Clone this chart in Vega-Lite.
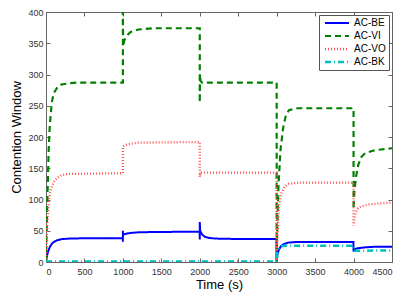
{
  "$schema": "https://vega.github.io/schema/vega-lite/v6.json",
  "width": 346,
  "height": 250,
  "autosize": "none",
  "padding": {"left": 46, "top": 12, "right": 24, "bottom": 38},
  "background": "white",
  "config": {
    "view": {"stroke": "#666666", "strokeWidth": 1},
    "font": "Liberation Sans",
    "axis": {
      "grid": false,
      "domainColor": "#666666",
      "tickColor": "#666666",
      "tickSize": -4,
      "labelColor": "#333333",
      "labelFontSize": 9,
      "labelFont": "Liberation Sans",
      "titleFont": "Liberation Sans",
      "titleFontSize": 13,
      "titleFontWeight": "normal",
      "titleColor": "#000000"
    }
  },
  "data": {"values": [
    {"s":"AC-BE","i":1,"t":0,"v":0},{"s":"AC-BE","i":2,"t":10,"v":8},{"s":"AC-BE","i":3,"t":25,"v":16},{"s":"AC-BE","i":4,"t":50,"v":24},{"s":"AC-BE","i":5,"t":75,"v":29},{"s":"AC-BE","i":6,"t":100,"v":32},{"s":"AC-BE","i":7,"t":150,"v":35},{"s":"AC-BE","i":8,"t":200,"v":36.5},{"s":"AC-BE","i":9,"t":300,"v":37.5},{"s":"AC-BE","i":10,"t":500,"v":38},{"s":"AC-BE","i":11,"t":998,"v":38},{"s":"AC-BE","i":12,"t":1000,"v":32.5},{"s":"AC-BE","i":13,"t":1000,"v":50},{"s":"AC-BE","i":14,"t":1002,"v":44},{"s":"AC-BE","i":15,"t":1050,"v":45.5},{"s":"AC-BE","i":16,"t":1100,"v":46.5},{"s":"AC-BE","i":17,"t":1200,"v":47.5},{"s":"AC-BE","i":18,"t":1400,"v":48},{"s":"AC-BE","i":19,"t":1998,"v":48.5},{"s":"AC-BE","i":20,"t":2000,"v":36},{"s":"AC-BE","i":21,"t":2000,"v":64},{"s":"AC-BE","i":22,"t":2005,"v":50},{"s":"AC-BE","i":23,"t":2030,"v":44},{"s":"AC-BE","i":24,"t":2070,"v":40},{"s":"AC-BE","i":25,"t":2120,"v":38.5},{"s":"AC-BE","i":26,"t":2200,"v":37.5},{"s":"AC-BE","i":27,"t":2400,"v":37},{"s":"AC-BE","i":28,"t":2998,"v":37},{"s":"AC-BE","i":29,"t":3000,"v":0},{"s":"AC-BE","i":30,"t":3010,"v":12},{"s":"AC-BE","i":31,"t":3030,"v":20},{"s":"AC-BE","i":32,"t":3060,"v":26},{"s":"AC-BE","i":33,"t":3100,"v":29},{"s":"AC-BE","i":34,"t":3150,"v":31},{"s":"AC-BE","i":35,"t":3250,"v":32},{"s":"AC-BE","i":36,"t":3998,"v":32},{"s":"AC-BE","i":37,"t":4000,"v":17},{"s":"AC-BE","i":38,"t":4010,"v":20},{"s":"AC-BE","i":39,"t":4050,"v":22},{"s":"AC-BE","i":40,"t":4150,"v":23.5},{"s":"AC-BE","i":41,"t":4300,"v":24.5},{"s":"AC-BE","i":42,"t":4500,"v":24.5},

    {"s":"AC-VI","i":1,"t":0,"v":0},{"s":"AC-VI","i":2,"t":10,"v":60},{"s":"AC-VI","i":3,"t":20,"v":110},{"s":"AC-VI","i":4,"t":35,"v":180},{"s":"AC-VI","i":5,"t":50,"v":220},{"s":"AC-VI","i":6,"t":75,"v":255},{"s":"AC-VI","i":7,"t":100,"v":270},{"s":"AC-VI","i":8,"t":150,"v":280},{"s":"AC-VI","i":9,"t":200,"v":284},{"s":"AC-VI","i":10,"t":300,"v":286},{"s":"AC-VI","i":11,"t":400,"v":287},{"s":"AC-VI","i":12,"t":998,"v":287},{"s":"AC-VI","i":13,"t":1000,"v":287},{"s":"AC-VI","i":14,"t":1000,"v":400},{"s":"AC-VI","i":15,"t":1003,"v":345},{"s":"AC-VI","i":16,"t":1020,"v":355},{"s":"AC-VI","i":17,"t":1050,"v":362},{"s":"AC-VI","i":18,"t":1100,"v":368},{"s":"AC-VI","i":19,"t":1200,"v":372},{"s":"AC-VI","i":20,"t":1400,"v":374},{"s":"AC-VI","i":21,"t":2000,"v":374},{"s":"AC-VI","i":22,"t":2000,"v":255},{"s":"AC-VI","i":23,"t":2003,"v":300},{"s":"AC-VI","i":24,"t":2010,"v":290},{"s":"AC-VI","i":25,"t":2030,"v":287},{"s":"AC-VI","i":26,"t":3000,"v":287},{"s":"AC-VI","i":27,"t":3000,"v":0},{"s":"AC-VI","i":28,"t":3005,"v":40},{"s":"AC-VI","i":29,"t":3015,"v":90},{"s":"AC-VI","i":30,"t":3025,"v":125},{"s":"AC-VI","i":31,"t":3050,"v":180},{"s":"AC-VI","i":32,"t":3085,"v":215},{"s":"AC-VI","i":33,"t":3120,"v":235},{"s":"AC-VI","i":34,"t":3160,"v":243},{"s":"AC-VI","i":35,"t":3250,"v":246},{"s":"AC-VI","i":36,"t":4000,"v":246},{"s":"AC-VI","i":37,"t":4000,"v":85},{"s":"AC-VI","i":38,"t":4010,"v":110},{"s":"AC-VI","i":39,"t":4030,"v":135},{"s":"AC-VI","i":40,"t":4060,"v":155},{"s":"AC-VI","i":41,"t":4100,"v":168},{"s":"AC-VI","i":42,"t":4150,"v":174},{"s":"AC-VI","i":43,"t":4250,"v":178},{"s":"AC-VI","i":44,"t":4350,"v":180},{"s":"AC-VI","i":45,"t":4500,"v":182},

    {"s":"AC-VO","i":1,"t":0,"v":0},{"s":"AC-VO","i":2,"t":10,"v":40},{"s":"AC-VO","i":3,"t":20,"v":70},{"s":"AC-VO","i":4,"t":40,"v":100},{"s":"AC-VO","i":5,"t":60,"v":115},{"s":"AC-VO","i":6,"t":100,"v":128},{"s":"AC-VO","i":7,"t":150,"v":135},{"s":"AC-VO","i":8,"t":200,"v":139},{"s":"AC-VO","i":9,"t":300,"v":141},{"s":"AC-VO","i":10,"t":1000,"v":142},{"s":"AC-VO","i":11,"t":1000,"v":185},{"s":"AC-VO","i":12,"t":1050,"v":188},{"s":"AC-VO","i":13,"t":1200,"v":191},{"s":"AC-VO","i":14,"t":2000,"v":192},{"s":"AC-VO","i":15,"t":2000,"v":136},{"s":"AC-VO","i":16,"t":2010,"v":143},{"s":"AC-VO","i":17,"t":3000,"v":143},{"s":"AC-VO","i":18,"t":3000,"v":0},{"s":"AC-VO","i":19,"t":3010,"v":40},{"s":"AC-VO","i":20,"t":3030,"v":90},{"s":"AC-VO","i":21,"t":3060,"v":110},{"s":"AC-VO","i":22,"t":3100,"v":120},{"s":"AC-VO","i":23,"t":3150,"v":125},{"s":"AC-VO","i":24,"t":3300,"v":127},{"s":"AC-VO","i":25,"t":4000,"v":127},{"s":"AC-VO","i":26,"t":4000,"v":58},{"s":"AC-VO","i":27,"t":4010,"v":70},{"s":"AC-VO","i":28,"t":4030,"v":80},{"s":"AC-VO","i":29,"t":4060,"v":86},{"s":"AC-VO","i":30,"t":4100,"v":89},{"s":"AC-VO","i":31,"t":4200,"v":92},{"s":"AC-VO","i":32,"t":4350,"v":94},{"s":"AC-VO","i":33,"t":4500,"v":95},

    {"s":"AC-BK","i":1,"t":0,"v":1},{"s":"AC-BK","i":2,"t":3000,"v":1},{"s":"AC-BK","i":3,"t":3010,"v":15},{"s":"AC-BK","i":4,"t":3030,"v":22},{"s":"AC-BK","i":5,"t":3060,"v":25},{"s":"AC-BK","i":6,"t":3100,"v":26},{"s":"AC-BK","i":7,"t":4000,"v":26},{"s":"AC-BK","i":8,"t":4000,"v":18},{"s":"AC-BK","i":9,"t":4500,"v":18.5}
  ]},
  "resolve": {"axis": {"x": "independent", "y": "independent"}},
  "layer": [
    {
      "mark": {"type": "line", "clip": true},
      "encoding": {
        "x": {"field": "t", "type": "quantitative", "scale": {"domain": [0, 4500], "nice": false}, "axis": {"title": "Time (s)", "format": "d", "values": [0,500,1000,1500,2000,2500,3000,3500,4000,4500], "labelPadding": 9, "titlePadding": 2}},
        "y": {"field": "v", "type": "quantitative", "scale": {"domain": [0, 400], "nice": false}, "axis": {"title": "Contention Window", "format": "d", "values": [0,50,100,150,200,250,300,350,400], "labelPadding": 7, "titlePadding": 4}},
        "order": {"field": "i", "type": "quantitative"},
        "color": {"field": "s", "type": "nominal", "scale": {"domain": ["AC-BE","AC-VI","AC-VO","AC-BK"], "range": ["#0000ff","#008000","#ff5050","#00bfbf"]},
          "legend": {"title": null, "orient": "top-right", "offset": 3, "symbolType": "M-1,0H11", "symbolSize": 16, "symbolFillColor": "transparent", "labelFontSize": 10, "labelColor": "#000000", "labelFont": "Liberation Sans", "strokeColor": "#555555", "fillColor": "white", "padding": 3, "rowPadding": 3, "labelOffset": 22, "symbolStrokeWidth": 2}},
        "strokeDash": {"field": "s", "type": "nominal", "scale": {"domain": ["AC-BE","AC-VI","AC-VO","AC-BK"], "range": [[1,0],[6,4],[1,2],[6,3,1,3]]}},
        "strokeWidth": {"field": "s", "type": "nominal", "scale": {"domain": ["AC-BE","AC-VI","AC-VO","AC-BK"], "range": [2,2.5,1,1.5]}}
      }
    },
    {
      "mark": {"type": "line", "opacity": 0},
      "encoding": {
        "x": {"field": "t", "type": "quantitative", "axis": {"orient": "top", "labels": false, "title": null, "domain": false, "values": [0,500,1000,1500,2000,2500,3000,3500,4000,4500]}},
        "y": {"field": "v", "type": "quantitative", "axis": {"orient": "right", "labels": false, "title": null, "domain": false, "values": [0,50,100,150,200,250,300,350,400]}},
        "detail": {"field": "s"}
      }
    }
  ]
}
